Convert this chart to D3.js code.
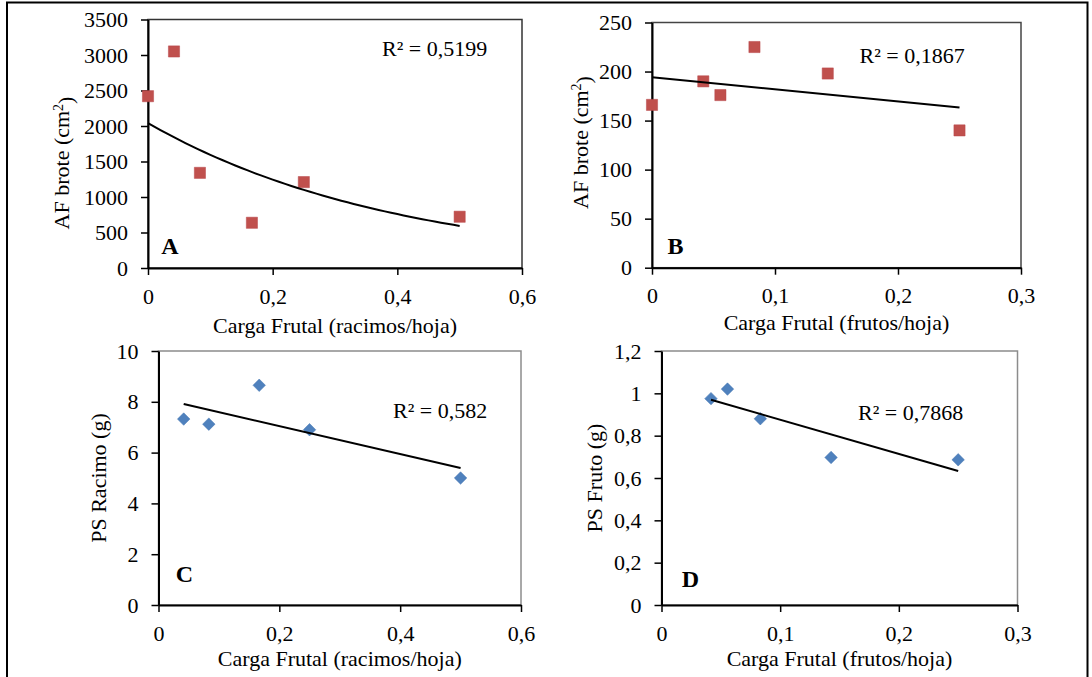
<!DOCTYPE html>
<html lang="es">
<head>
<meta charset="utf-8">
<title>Carga frutal</title>
<script src="https://cdn.jsdelivr.net/npm/d3@7"></script>
<style>
  body { margin: 0; background: #fff; }
  svg text { font-family: "Liberation Serif", "Times New Roman", serif; fill: #000; }
</style>
</head>
<body>
<div id="chart"></div>
<script>
"use strict"

// datos
var cargaRacimosA = [0, 0.0417, 0.0833, 0.1667, 0.25, 0.5];
var afBroteA      = [2420, 3050, 1340, 637, 1210, 722];
var cargaFrutosB  = [0, 0.0417, 0.0556, 0.0833, 0.1429, 0.25];
var afBroteB      = [166, 190, 176, 225, 198, 140];
var cargaRacimosC = [0.0417, 0.0833, 0.1667, 0.25, 0.5];
var psRacimoC     = [7.32, 7.12, 8.65, 6.9, 5.0];
var cargaFrutosD  = [0.0417, 0.0556, 0.0833, 0.1429, 0.25];
var psFrutoD      = [0.975, 1.02, 0.88, 0.697, 0.686];

var ticksRacimos = [0, 0.2, 0.4, 0.6];
var ticksFrutos  = [0, 0.1, 0.2, 0.3];
var ticksAfA = [0, 500, 1000, 1500, 2000, 2500, 3000, 3500];
var ticksAfB = [0, 50, 100, 150, 200, 250];
var ticksPsC = [0, 2, 4, 6, 8, 10];
var ticksPsD = [0, 0.2, 0.4, 0.6, 0.8, 1, 1.2];

var r2Labels = ["R² = 0,5199", "R² = 0,1867", "R² = 0,582", "R² = 0,7868"];
var letras = ["A", "B", "C", "D"];
var tituloX = ["Carga Frutal (racimos/hoja)", "Carga Frutal (frutos/hoja)",
               "Carga Frutal (racimos/hoja)", "Carga Frutal (frutos/hoja)"];
var tituloY = ["AF brote (cm", "AF brote (cm", "PS Racimo (g)", "PS Fruto (g)"];

var rojo = "#C0504D", azul = "#4F81BD";
var fmt = d3.formatLocale({decimal: ",", thousands: ".", grouping: [3], currency: ["", ""]}).format("~g");

var svg = d3.select("#chart").append("svg")
  .attr("width", 1092).attr("height", 677);

// marco exterior
svg.append("rect")
  .attr("x", 7).attr("y", 2.5).attr("width", 1080.5).attr("height", 700)
  .attr("fill", "none").attr("stroke", "#000").attr("stroke-width", 2);

// ajustes de tendencia
function ajusteLineal(xs, ys) {
  var mx = d3.mean(xs), my = d3.mean(ys);
  var sxy = d3.sum(xs, (x, i) => (x - mx) * (ys[i] - my));
  var sxx = d3.sum(xs, x => (x - mx) * (x - mx));
  var b = sxy / sxx;
  return x => my + b * (x - mx);
}
function ajusteExp(xs, ys) {
  var f = ajusteLineal(xs, ys.map(Math.log));
  return x => Math.exp(f(x));
}

var paneles = [
  {xs: cargaRacimosA, ys: afBroteA, xt: ticksRacimos, yt: ticksAfA, tipo: "exp", marca: "cuadrado",
   l: 148, r: 522, t: 19.5, b: 268, borde: "#333",
   yt_x: 62, yt_y: 163, xt_y: 325, r2: [382, 48], letra: [170, 246]},
  {xs: cargaFrutosB, ys: afBroteB, xt: ticksFrutos, yt: ticksAfB, tipo: "lin", marca: "cuadrado",
   l: 652, r: 1021, t: 22.5, b: 267.7, borde: "#444",
   yt_x: 580.5, yt_y: 142.5, xt_y: 322, r2: [859.5, 55], letra: [675.5, 246]},
  {xs: cargaRacimosC, ys: psRacimoC, xt: ticksRacimos, yt: ticksPsC, tipo: "lin", marca: "rombo",
   l: 158.5, r: 521, t: 351, b: 605, borde: "#8c8c8c",
   yt_x: 98.5, yt_y: 478, xt_y: 658, r2: [393, 410], letra: [184.5, 574]},
  {xs: cargaFrutosD, ys: psFrutoD, xt: ticksFrutos, yt: ticksPsD, tipo: "lin", marca: "rombo",
   l: 661.5, r: 1017.5, t: 351, b: 605, borde: "#8c8c8c",
   yt_x: 595, yt_y: 478, xt_y: 658, r2: [858, 412.5], letra: [690.5, 579]}
];

paneles.forEach(function (p, i) {
  var x = d3.scaleLinear().domain(d3.extent(p.xt)).range([p.l, p.r]);
  var y = d3.scaleLinear().domain(d3.extent(p.yt)).range([p.b, p.t]);
  var g = svg.append("g");

  g.append("rect")
    .attr("x", p.l).attr("y", p.t).attr("width", p.r - p.l).attr("height", p.b - p.t)
    .attr("fill", "none").attr("stroke", p.borde).attr("stroke-width", 1.5);

  var ejeX = g.append("g")
    .attr("transform", "translate(0," + p.b + ")")
    .call(d3.axisBottom(x).tickValues(p.xt).tickFormat(fmt).tickSize(7).tickSizeOuter(0).tickPadding(13));
  var ejeY = g.append("g")
    .attr("transform", "translate(" + p.l + ",0)")
    .call(d3.axisLeft(y).tickValues(p.yt).tickFormat(fmt).tickSize(7).tickSizeOuter(0).tickPadding(13));

  [ejeX, ejeY].forEach(function (e) {
    e.attr("font-family", null).attr("font-size", null);
    e.select(".domain").attr("stroke", "#000").attr("stroke-width", 2);
    e.selectAll(".tick line").attr("stroke", "#000").attr("stroke-width", 1.5);
    e.selectAll(".tick text").style("font-size", "22px");
  });

  // marcas
  var datos = p.xs.map((v, k) => [v, p.ys[k]]);
  if (p.marca === "cuadrado") {
    g.selectAll(".pt").data(datos).enter().append("path")
      .attr("d", d3.symbol(d3.symbolSquare, 125))
      .attr("transform", d => "translate(" + x(d[0]) + "," + y(d[1]) + ")")
      .attr("fill", rojo).attr("stroke", "#b9474a").attr("stroke-width", 0.5);
  } else {
    g.selectAll(".pt").data(datos).enter().append("path")
      .attr("d", d3.symbol(d3.symbolSquare, 78))
      .attr("transform", d => "translate(" + x(d[0]) + "," + y(d[1]) + ") rotate(45)")
      .attr("fill", azul).attr("stroke", "#4677b3").attr("stroke-width", 0.5);
  }

  // linea de tendencia
  var f = p.tipo === "exp" ? ajusteExp(p.xs, p.ys) : ajusteLineal(p.xs, p.ys);
  var ext = d3.extent(p.xs);
  var xsT = p.tipo === "exp" ? x.ticks(60).filter(v => v >= ext[0] && v <= ext[1]) : ext;
  if (xsT[xsT.length - 1] < ext[1]) xsT.push(ext[1]);
  g.append("path")
    .datum(xsT)
    .attr("fill", "none").attr("stroke", "#000").attr("stroke-width", 2)
    .attr("d", d3.line().x(v => x(v)).y(v => y(f(v))));

  // textos
  var ty = g.append("text")
    .attr("transform", "translate(" + p.yt_x + "," + p.yt_y + ") rotate(-90)")
    .attr("text-anchor", "middle").attr("dy", "0.33em")
    .style("font-size", "22px")
    .text(tituloY[i]);
  if (i < 2) {
    ty.append("tspan").attr("dy", "-0.45em").style("font-size", "14px").text("2");
    ty.append("tspan").attr("dy", "0.45em").text(")");
  }

  g.append("text")
    .attr("x", (p.l + p.r) / 2).attr("y", p.xt_y).attr("dy", "0.35em")
    .attr("text-anchor", "middle").style("font-size", "22px")
    .text(tituloX[i]);

  g.append("text")
    .attr("x", p.r2[0]).attr("y", p.r2[1]).attr("dy", "0.35em")
    .style("font-size", "22px")
    .text(r2Labels[i]);

  g.append("text")
    .attr("x", p.letra[0]).attr("y", p.letra[1]).attr("dy", "0.35em")
    .attr("text-anchor", "middle").style("font-size", "24px").style("font-weight", "bold")
    .text(letras[i]);
});
</script>
</body>
</html>
